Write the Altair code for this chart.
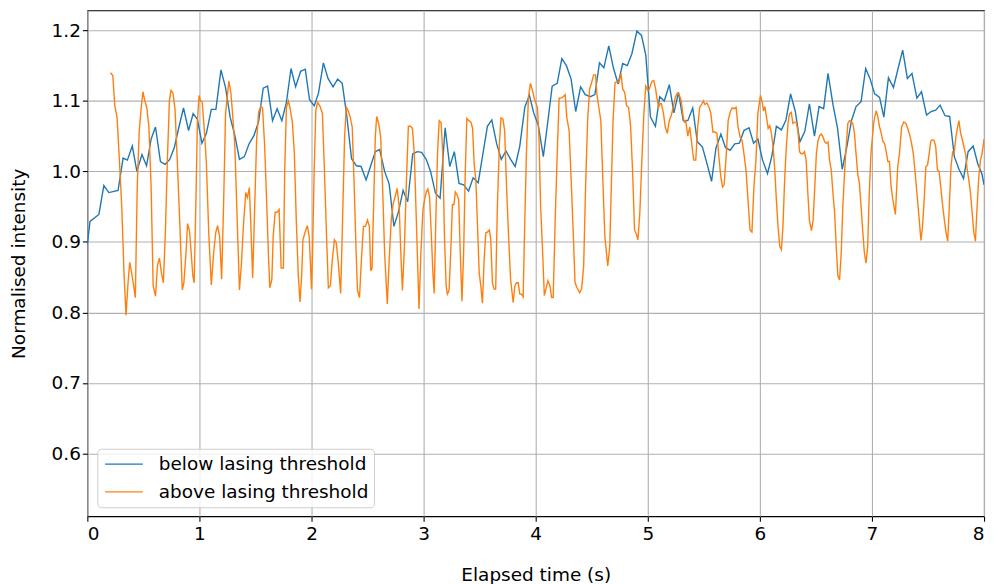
import altair as alt
import pandas as pd

# ---- data ----
blue_t = [0.000, 0.024, 0.103, 0.147, 0.192, 0.274, 0.319, 0.357, 0.401, 0.442, 0.487, 0.528, 0.569, 0.608,
          0.652, 0.693, 0.735, 0.776, 0.817, 0.858, 0.903, 0.944, 0.982, 1.022, 1.062, 1.106, 1.147, 1.192,
          1.233, 1.274, 1.316, 1.357, 1.401, 1.442, 1.487, 1.528, 1.569, 1.608, 1.652, 1.693, 1.735, 1.776,
          1.817, 1.858, 1.903, 1.944, 1.982, 2.024, 2.062, 2.106, 2.147, 2.192, 2.233, 2.274, 2.316, 2.357,
          2.401, 2.442, 2.487, 2.528, 2.569, 2.608, 2.652, 2.693, 2.735, 2.776, 2.817, 2.858, 2.903, 2.944,
          2.982, 3.024, 3.062, 3.106, 3.147, 3.192, 3.233, 3.274, 3.316, 3.357, 3.401, 3.442, 3.487, 3.528,
          3.569, 3.608, 3.652, 3.693, 3.735, 3.776, 3.817, 3.858, 3.903, 3.944, 3.982, 4.024, 4.068, 4.106,
          4.147, 4.192, 4.233, 4.274, 4.316, 4.357, 4.401, 4.442, 4.487, 4.528, 4.569, 4.608, 4.652, 4.693,
          4.735, 4.776, 4.817, 4.858, 4.903, 4.944, 4.982, 5.024, 5.068, 5.106, 5.147, 5.192, 5.233, 5.274,
          5.316, 5.357, 5.401, 5.442, 5.487, 5.528, 5.569, 5.608, 5.652, 5.693, 5.735, 5.776, 5.817, 5.858,
          5.903, 5.944, 5.982, 6.024, 6.068, 6.106, 6.147, 6.192, 6.233, 6.274, 6.316, 6.357, 6.401, 6.442,
          6.487, 6.528, 6.569, 6.608, 6.652, 6.693, 6.735, 6.776, 6.817, 6.858, 6.903, 6.944, 6.982, 7.024,
          7.068, 7.106, 7.147, 7.192, 7.233, 7.274, 7.316, 7.357, 7.401, 7.442, 7.487, 7.528, 7.569, 7.608,
          7.652, 7.693, 7.735, 7.776, 7.817, 7.858, 7.903, 7.944, 7.982, 8.000]
blue_v = [0.897, 0.929, 0.939, 0.980, 0.970, 0.973, 1.019, 1.016, 1.036, 1.000, 1.024, 1.008, 1.046, 1.063,
          1.014, 1.010, 1.017, 1.034, 1.063, 1.090, 1.058, 1.082, 1.074, 1.040, 1.054, 1.088, 1.088, 1.144,
          1.119, 1.077, 1.051, 1.017, 1.021, 1.039, 1.051, 1.071, 1.118, 1.121, 1.072, 1.089, 1.072, 1.098,
          1.146, 1.120, 1.142, 1.145, 1.102, 1.093, 1.111, 1.154, 1.132, 1.120, 1.131, 1.125, 1.077, 1.018,
          1.008, 1.007, 0.988, 1.008, 1.028, 1.031, 1.000, 0.982, 0.922, 0.943, 0.973, 0.957, 1.025, 1.028,
          1.027, 1.017, 1.000, 0.969, 0.962, 1.062, 1.007, 1.028, 0.983, 0.981, 0.972, 0.991, 0.984, 1.024,
          1.064, 1.073, 1.039, 1.017, 1.029, 1.017, 1.007, 1.036, 1.091, 1.108, 1.083, 1.065, 1.021, 1.068,
          1.121, 1.125, 1.160, 1.150, 1.131, 1.085, 1.120, 1.109, 1.106, 1.109, 1.154, 1.147, 1.178, 1.147,
          1.124, 1.153, 1.150, 1.167, 1.199, 1.193, 1.165, 1.077, 1.064, 1.106, 1.100, 1.123, 1.083, 1.112,
          1.072, 1.072, 1.090, 1.042, 1.035, 1.011, 0.986, 1.033, 1.053, 1.034, 1.030, 1.039, 1.040, 1.058,
          1.062, 1.040, 1.046, 1.016, 0.997, 1.021, 1.064, 1.059, 1.073, 1.110, 1.085, 1.042, 1.057, 1.096,
          1.050, 1.092, 1.089, 1.139, 1.095, 1.061, 1.003, 1.035, 1.072, 1.092, 1.099, 1.146, 1.132, 1.110,
          1.105, 1.077, 1.133, 1.119, 1.146, 1.172, 1.132, 1.139, 1.104, 1.113, 1.080, 1.085, 1.087, 1.094,
          1.079, 1.078, 1.021, 1.003, 0.990, 1.028, 1.036, 1.011, 0.996, 0.981]

orange_t = [0.206, 0.227, 0.245, 0.265, 0.286, 0.307, 0.327, 0.345, 0.363, 0.378, 0.395, 0.413, 0.428, 0.445,
            0.463, 0.481, 0.496, 0.513, 0.531, 0.549, 0.569, 0.587, 0.608, 0.625, 0.643, 0.661, 0.678, 0.696,
            0.714, 0.732, 0.746, 0.764, 0.782, 0.802, 0.826, 0.847, 0.861, 0.882, 0.894, 0.912, 0.926, 0.941,
            0.953, 0.971, 0.982, 0.997, 1.009, 1.024, 1.044, 1.062, 1.083, 1.106, 1.127, 1.145, 1.162, 1.180,
            1.198, 1.215, 1.233, 1.251, 1.263, 1.280, 1.298, 1.316, 1.333, 1.357, 1.375, 1.392, 1.413, 1.428,
            1.445, 1.457, 1.475, 1.493, 1.510, 1.528, 1.546, 1.563, 1.581, 1.599, 1.617, 1.628, 1.646, 1.658,
            1.676, 1.693, 1.711, 1.729, 1.749, 1.761, 1.776, 1.794, 1.808, 1.829, 1.847, 1.864, 1.882, 1.897,
            1.912, 1.923, 1.941, 1.962, 1.979, 1.990, 2.000, 2.009, 2.024, 2.038, 2.053, 2.074, 2.097, 2.115,
            2.133, 2.150, 2.168, 2.186, 2.204, 2.221, 2.239, 2.260, 2.277, 2.295, 2.310, 2.327, 2.345, 2.363,
            2.381, 2.398, 2.410, 2.428, 2.445, 2.463, 2.481, 2.499, 2.516, 2.528, 2.540, 2.558, 2.569, 2.581,
            2.599, 2.617, 2.634, 2.652, 2.676, 2.693, 2.711, 2.729, 2.746, 2.764, 2.782, 2.799, 2.811, 2.829,
            2.847, 2.864, 2.882, 2.900, 2.917, 2.935, 2.959, 2.976, 2.994, 3.009, 3.024, 3.038, 3.053, 3.068,
            3.083, 3.094, 3.109, 3.124, 3.139, 3.156, 3.171, 3.186, 3.201, 3.212, 3.227, 3.242, 3.257, 3.271,
            3.283, 3.298, 3.313, 3.327, 3.342, 3.357, 3.372, 3.386, 3.404, 3.422, 3.437, 3.451, 3.466, 3.481,
            3.496, 3.510, 3.525, 3.540, 3.555, 3.569, 3.587, 3.599, 3.614, 3.628, 3.643, 3.658, 3.676, 3.690,
            3.708, 3.723, 3.740, 3.758, 3.776, 3.799, 3.814, 3.829, 3.844, 3.858, 3.873, 3.888, 3.903, 3.917,
            3.935, 3.953, 3.971, 3.988, 4.015, 4.029, 4.044, 4.062, 4.077, 4.091, 4.109, 4.127, 4.142, 4.156,
            4.174, 4.192, 4.209, 4.227, 4.245, 4.263, 4.277, 4.298, 4.319, 4.336, 4.351, 4.369, 4.392, 4.410,
            4.428, 4.445, 4.463, 4.481, 4.499, 4.516, 4.534, 4.546, 4.563, 4.581, 4.599, 4.617, 4.631, 4.643,
            4.661, 4.676, 4.690, 4.708, 4.726, 4.743, 4.761, 4.776, 4.794, 4.811, 4.829, 4.847, 4.864, 4.882,
            4.900, 4.912, 4.929, 4.947, 4.965, 4.982, 5.000, 5.009, 5.024, 5.038, 5.053, 5.068, 5.083, 5.097,
            5.109, 5.121, 5.139, 5.156, 5.174, 5.192, 5.209, 5.227, 5.245, 5.263, 5.280, 5.298, 5.316, 5.327,
            5.339, 5.357, 5.375, 5.392, 5.410, 5.428, 5.445, 5.463, 5.481, 5.496, 5.510, 5.528, 5.546, 5.563,
            5.581, 5.599, 5.617, 5.634, 5.652, 5.667, 5.681, 5.699, 5.717, 5.735, 5.752, 5.770, 5.788, 5.805,
            5.823, 5.841, 5.858, 5.876, 5.894, 5.912, 5.929, 5.947, 5.965, 5.982, 6.005, 6.021, 6.032, 6.044,
            6.059, 6.074, 6.088, 6.103, 6.118, 6.133, 6.147, 6.162, 6.177, 6.192, 6.206, 6.221, 6.236, 6.251,
            6.265, 6.280, 6.295, 6.310, 6.324, 6.339, 6.354, 6.369, 6.383, 6.398, 6.413, 6.428, 6.442, 6.460,
            6.475, 6.490, 6.504, 6.519, 6.534, 6.549, 6.563, 6.578, 6.593, 6.608, 6.622, 6.637, 6.652, 6.667,
            6.681, 6.696, 6.711, 6.726, 6.740, 6.755, 6.770, 6.785, 6.799, 6.814, 6.829, 6.844, 6.858, 6.873,
            6.888, 6.903, 6.917, 6.932, 6.947, 6.962, 6.976, 6.991, 7.015, 7.024, 7.038, 7.053, 7.068, 7.083,
            7.097, 7.112, 7.127, 7.142, 7.156, 7.171, 7.186, 7.209, 7.230, 7.245, 7.265, 7.283, 7.304, 7.319,
            7.333, 7.351, 7.369, 7.386, 7.404, 7.422, 7.437, 7.451, 7.466, 7.481, 7.496, 7.510, 7.525, 7.540,
            7.555, 7.569, 7.584, 7.599, 7.614, 7.628, 7.646, 7.661, 7.676, 7.690, 7.705, 7.720, 7.735, 7.749,
            7.764, 7.776, 7.791, 7.805, 7.820, 7.835, 7.850, 7.864, 7.879, 7.894, 7.909, 7.923, 7.938, 7.953,
            7.968, 7.982, 8.000]
orange_v = [1.140, 1.136, 1.093, 1.077, 1.016, 0.950, 0.856, 0.796, 0.842, 0.871, 0.856, 0.838, 0.821, 0.978,
            1.058, 1.091, 1.113, 1.100, 1.090, 1.063, 0.978, 0.838, 0.823, 0.866, 0.877, 0.856, 0.842, 0.913,
            1.016, 1.100, 1.115, 1.111, 1.089, 1.016, 0.922, 0.832, 0.842, 0.889, 0.926, 0.915, 0.885, 0.852,
            0.842, 0.978, 1.072, 1.108, 1.100, 1.099, 1.058, 1.011, 0.913, 0.839, 0.885, 0.913, 0.923, 0.908,
            0.847, 0.950, 1.082, 1.110, 1.128, 1.112, 1.077, 1.035, 0.950, 0.832, 0.870, 0.922, 0.970, 0.963,
            0.977, 0.931, 0.849, 0.950, 1.044, 1.084, 1.092, 1.090, 1.039, 0.960, 0.875, 0.835, 0.847, 0.908,
            0.942, 0.942, 0.946, 0.863, 0.863, 1.002, 1.091, 1.100, 1.090, 1.070, 1.025, 0.931, 0.852, 0.815,
            0.852, 0.903, 0.913, 0.923, 0.908, 0.870, 0.833, 0.885, 1.002, 1.086, 1.098, 1.093, 1.082, 1.002,
            0.913, 0.835, 0.838, 0.875, 0.903, 0.899, 0.870, 0.827, 0.931, 1.049, 1.091, 1.086, 1.077, 1.063,
            0.978, 0.885, 0.831, 0.821, 0.875, 0.922, 0.922, 0.931, 0.922, 0.859, 0.863, 0.978, 1.049, 1.078,
            1.068, 1.049, 0.978, 0.885, 0.812, 0.875, 0.931, 0.955, 0.964, 0.976, 0.950, 0.875, 0.831, 0.894,
            0.988, 1.064, 1.064, 1.061, 1.025, 0.931, 0.805, 0.885, 0.946, 0.960, 0.971, 0.975, 0.964, 0.913,
            0.856, 0.827, 0.931, 1.025, 1.072, 1.069, 1.025, 0.908, 0.838, 0.826, 0.831, 0.885, 0.953, 0.953,
            0.971, 0.967, 0.960, 0.885, 0.816, 0.885, 1.002, 1.075, 1.072, 1.070, 1.061, 1.011, 0.988, 0.922,
            0.856, 0.838, 0.813, 0.875, 0.913, 0.914, 0.917, 0.903, 0.842, 0.833, 0.833, 0.950, 1.039, 1.076,
            1.074, 1.058, 0.978, 0.908, 0.847, 0.814, 0.838, 0.842, 0.842, 0.826, 0.826, 0.822, 0.931, 1.025,
            1.105, 1.125, 1.115, 1.103, 1.091, 1.049, 0.950, 0.885, 0.824, 0.833, 0.845, 0.838, 0.821, 0.821,
            0.931, 1.025, 1.104, 1.104, 1.106, 1.109, 1.077, 1.058, 0.978, 0.908, 0.842, 0.835, 0.828, 0.834,
            0.866, 0.978, 1.072, 1.117, 1.126, 1.137, 1.137, 1.110, 1.091, 1.072, 0.988, 0.908, 0.885, 0.866,
            0.894, 0.988, 1.072, 1.126, 1.127, 1.126, 1.139, 1.117, 1.112, 1.093, 1.091, 1.063, 1.002, 0.917,
            0.910, 0.903, 0.941, 1.016, 1.082, 1.121, 1.115, 1.115, 1.122, 1.128, 1.129, 1.119, 1.103, 1.091,
            1.096, 1.096, 1.083, 1.063, 1.054, 1.072, 1.079, 1.091, 1.105, 1.111, 1.109, 1.100, 1.077, 1.070,
            1.072, 1.050, 1.063, 1.039, 1.016, 1.016, 1.063, 1.091, 1.095, 1.100, 1.095, 1.097, 1.091, 1.082,
            1.056, 1.056, 1.054, 1.021, 0.992, 0.978, 0.981, 1.021, 1.072, 1.084, 1.090, 1.089, 1.091, 1.063,
            1.049, 1.044, 1.025, 1.002, 0.960, 0.917, 0.914, 0.978, 1.016, 1.082, 1.108, 1.098, 1.086, 1.092,
            1.077, 1.061, 1.065, 1.054, 1.035, 1.002, 0.960, 0.922, 0.894, 0.889, 0.922, 0.988, 1.035, 1.068,
            1.082, 1.084, 1.068, 1.070, 1.070, 1.058, 1.028, 1.025, 1.025, 1.028, 1.016, 0.969, 0.931, 0.916,
            0.931, 0.978, 1.025, 1.044, 1.051, 1.053, 1.049, 1.042, 1.040, 1.042, 1.016, 1.002, 0.969, 0.941,
            0.894, 0.852, 0.846, 0.885, 0.950, 0.997, 1.035, 1.068, 1.072, 1.071, 1.068, 1.054, 1.025, 0.997,
            0.983, 0.950, 0.917, 0.885, 0.870, 0.894, 0.969, 1.025, 1.068, 1.077, 1.086, 1.077, 1.063, 1.054,
            1.043, 1.040, 1.028, 1.014, 1.014, 0.978, 0.960, 0.939, 1.007, 1.025, 1.063, 1.070, 1.068, 1.061,
            1.054, 1.042, 1.025, 0.997, 0.964, 0.931, 0.902, 0.922, 0.960, 1.007, 1.009, 1.025, 1.043, 1.045,
            1.044, 1.035, 1.002, 1.000, 0.978, 0.955, 0.931, 0.913, 0.901, 0.950, 1.007, 1.028, 1.028, 1.049,
            1.063, 1.072, 1.054, 1.046, 1.035, 1.025, 1.002, 0.988, 0.969, 0.941, 0.913, 0.901, 0.950, 0.992,
            1.016, 1.025, 1.046]

series_names = ["below lasing threshold", "above lasing threshold"]
series_colors = ["#1f77b4", "#ff7f0e"]
x_ticks = [0, 1, 2, 3, 4, 5, 6, 7, 8]
y_ticks = [0.6, 0.7, 0.8, 0.9, 1.0, 1.1, 1.2]

df = pd.concat([
    pd.DataFrame({"t": blue_t, "v": blue_v, "series": series_names[0]}),
    pd.DataFrame({"t": orange_t, "v": orange_v, "series": series_names[1]}),
], ignore_index=True)

FONT = "DejaVu Sans"
FS = 18.6

chart = alt.Chart(df).mark_line(strokeWidth=1.4, clip=True).encode(
    x=alt.X("t:Q", title="Elapsed time (s)",
            scale=alt.Scale(domain=[0, 8], nice=False, zero=False),
            axis=alt.Axis(values=x_ticks, format="d", grid=True, titlePadding=23,
                          labelPadding=3)),
    y=alt.Y("v:Q", title="Normalised intensity",
            scale=alt.Scale(domain=[0.5109, 1.2285], nice=False, zero=False),
            axis=alt.Axis(values=y_ticks, format=".1f", grid=True, titlePadding=23,
                          labelPadding=2)),
    color=alt.Color("series:N",
                    scale=alt.Scale(domain=series_names, range=series_colors),
                    sort=series_names,
                    legend=alt.Legend(title=None, orient="none", legendX=10, legendY=442,
                                      symbolType="M-0.8,0L3.2,0", symbolSize=361, symbolStrokeWidth=1.4,
                                      labelFontSize=FS, labelFont=FONT, labelColor="black",
                                      labelLimit=400, labelOffset=36, rowPadding=7, padding=5,
                                      fillColor="rgba(255,255,255,0.8)", strokeColor="#cccccc",
                                      cornerRadius=4)),
    order=alt.Order("t:Q"),
).properties(
    width=904, height=510,
    autosize=alt.AutoSizeParams(type="none"),
    padding={"left": 80, "top": 0, "right": 6, "bottom": 70},
).configure_view(
    stroke="black", strokeWidth=1.1
).configure_axis(
    labelFont=FONT, titleFont=FONT, labelFontSize=FS, titleFontSize=FS,
    titleFontWeight="normal", labelColor="black", titleColor="black",
    tickColor="black", tickSize=5, tickWidth=1.1, domain=False,
    gridColor="#b0b0b0", gridWidth=1.1,
)

chart.save("out.html", embed_options={"renderer": "svg", "actions": False})
